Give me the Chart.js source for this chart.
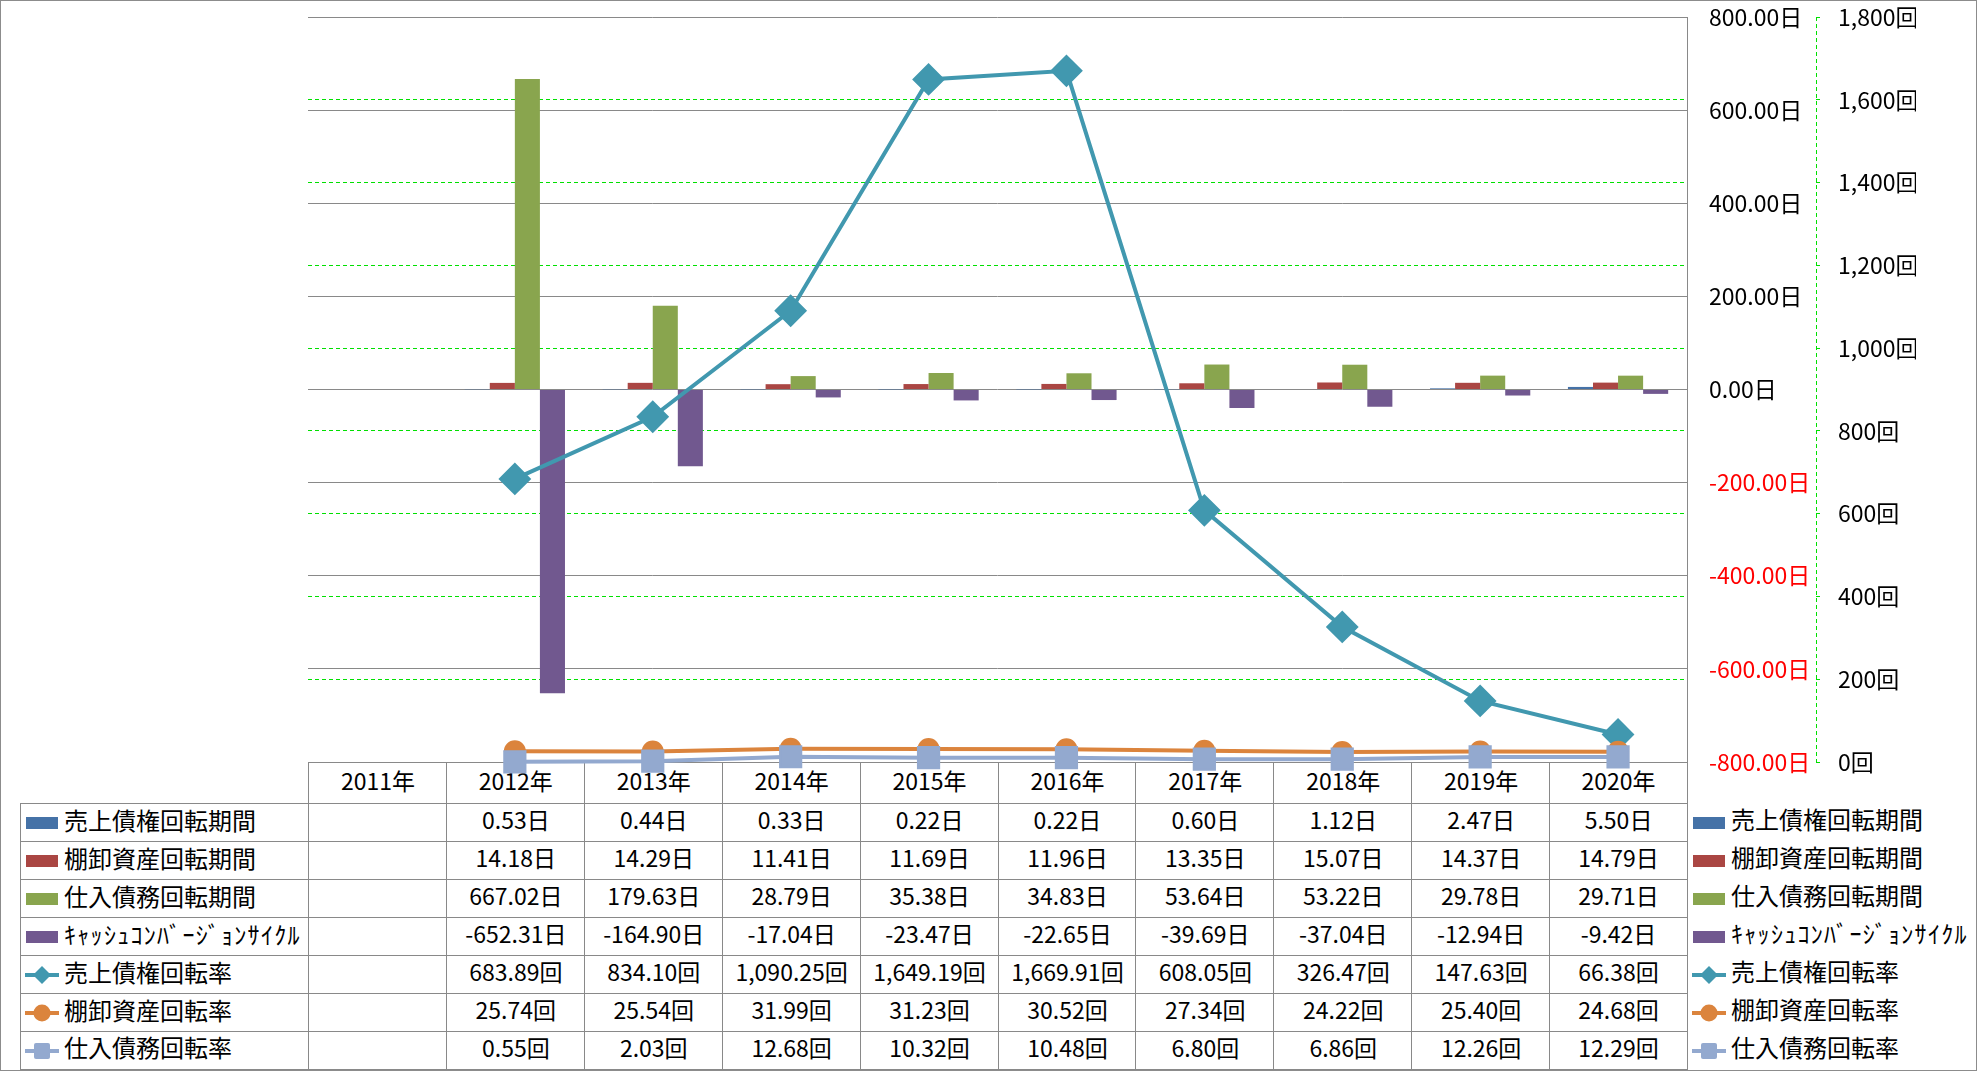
<!DOCTYPE html>
<html lang="ja">
<head>
<meta charset="utf-8">
<title>回転期間・回転率</title>
<script src="https://cdn.jsdelivr.net/npm/chart.js@4.4.1/dist/chart.umd.min.js"></script>
<style>
  html, body { margin: 0; padding: 0; background: #fff; }
  #frame { position: relative; width: 1977px; height: 1071px; overflow: hidden;
           font-family: "Noto Sans CJK JP", "Noto Sans", sans-serif; color: #000; }
  #chart { position: absolute; left: 0; top: 0; z-index: 2; }
  #grid { position: absolute; left: 0; top: 0; z-index: 1; }
  #border { position: absolute; left: 0; top: 0; width: 1977px; height: 1071px;
            box-sizing: border-box; border: 1px solid #8c8c8c; z-index: 3; pointer-events: none; }
  .cell { position: absolute; box-sizing: border-box; display: flex; align-items: center;
          justify-content: center; font-size: 23px; white-space: nowrap; padding-bottom: 8px; }
  .cell.legend { justify-content: flex-start; padding-left: 4px; font-size: 24px; }
  .cell.legend svg, .side svg { flex: none; margin-right: 5px; position: relative; top: 4px; }
  .side { position: absolute; box-sizing: border-box; display: flex; align-items: center;
          font-size: 24px; white-space: nowrap; padding-bottom: 8px; }
  .hw { letter-spacing: 1.3px; }
</style>
</head>
<body>
<div id="frame">
  <div id="grid"></div>
  <canvas id="chart" width="1977" height="1071"></canvas>
  <div id="border"></div>
</div>
<script>
// 年度
const categories = ['2011年', '2012年', '2013年', '2014年', '2015年', '2016年', '2017年', '2018年', '2019年', '2020年'];

// 回転期間（日）
const receivableDays = [null, 0.53, 0.44, 0.33, 0.22, 0.22, 0.60, 1.12, 2.47, 5.50];
const inventoryDays = [null, 14.18, 14.29, 11.41, 11.69, 11.96, 13.35, 15.07, 14.37, 14.79];
const payableDays = [null, 667.02, 179.63, 28.79, 35.38, 34.83, 53.64, 53.22, 29.78, 29.71];
const cccDays = [null, -652.31, -164.90, -17.04, -23.47, -22.65, -39.69, -37.04, -12.94, -9.42];

// 回転率（回）
const receivableTurnover = [null, 683.89, 834.10, 1090.25, 1649.19, 1669.91, 608.05, 326.47, 147.63, 66.38];
const inventoryTurnover = [null, 25.74, 25.54, 31.99, 31.23, 30.52, 27.34, 24.22, 25.40, 24.68];
const payableTurnover = [null, 0.55, 2.03, 12.68, 10.32, 10.48, 6.80, 6.86, 12.26, 12.29];

// 軸目盛
const dayAxis = { min: -800, max: 800, step: 200 };
const countAxis = { min: 0, max: 1800, step: 200 };

const GRAY = '#898989';
const GREEN = '#00e000';

// 表・凡例の行
const rows = [
  { name: '売上債権回転期間', data: receivableDays, unit: '日', key: 'bar', color: '#4572A7' },
  { name: '棚卸資産回転期間', data: inventoryDays, unit: '日', key: 'bar', color: '#AA4643' },
  { name: '仕入債務回転期間', data: payableDays, unit: '日', key: 'bar', color: '#89A54E' },
  { name: 'ｷｬｯｼｭｺﾝﾊﾞｰｼﾞｮﾝｻｲｸﾙ', data: cccDays, unit: '日', key: 'bar', color: '#71588F', cls: 'hw' },
  { name: '売上債権回転率', data: receivableTurnover, unit: '回', key: 'diamond', color: '#4198AF' },
  { name: '棚卸資産回転率', data: inventoryTurnover, unit: '回', key: 'circle', color: '#DB843D' },
  { name: '仕入債務回転率', data: payableTurnover, unit: '回', key: 'square', color: '#93A9CF' }
];

function fmt(v) {
  return v.toLocaleString('en-US', { minimumFractionDigits: 2, maximumFractionDigits: 2 });
}

function keySvg(kind, color) {
  if (kind === 'bar') {
    return `<svg width="34" height="20" viewBox="0 0 34 20"><rect x="1" y="4" width="32" height="12" fill="${color}"/></svg>`;
  }
  let marker = '';
  if (kind === 'diamond') marker = `<polygon points="17,1 26,10 17,19 8,10" fill="${color}"/>`;
  if (kind === 'circle') marker = `<circle cx="17" cy="10" r="8.5" fill="${color}"/>`;
  if (kind === 'square') marker = `<rect x="9" y="2" width="16" height="16" rx="2" fill="${color}"/>`;
  return `<svg width="34" height="20" viewBox="0 0 34 20"><line x1="0" y1="10" x2="34" y2="10" stroke="${color}" stroke-width="4"/>${marker}</svg>`;
}

// 第2軸の点線
const axisLinePlugin = {
  id: 'axisLine',
  afterDraw(chart) {
    const s = chart.scales.y2;
    const ctx = chart.ctx;
    ctx.save();
    ctx.strokeStyle = GREEN;
    ctx.lineWidth = 1;
    ctx.setLineDash([4, 3]);
    ctx.beginPath();
    ctx.moveTo(Math.round(s.left) + 0.5, s.top);
    ctx.lineTo(Math.round(s.left) + 0.5, s.bottom);
    ctx.stroke();
    ctx.restore();
  }
};

function barSet(row, order) {
  return {
    type: 'bar', label: row.name, data: row.data, yAxisID: 'y', order: order,
    backgroundColor: row.color, borderWidth: 0,
    categoryPercentage: 0.727, barPercentage: 1.0
  };
}

function lineSet(row, order, style, radius) {
  return {
    type: 'line', label: row.name, data: row.data, yAxisID: 'y2', order: order,
    borderColor: row.color, borderWidth: 4, tension: 0, clip: false,
    pointStyle: style, pointRadius: radius, pointHoverRadius: radius,
    pointBackgroundColor: row.color, pointBorderColor: row.color, pointBorderWidth: 2
  };
}

// 軸ラベルによる上下の余白を無くす
function fixAxis(width) {
  return scale => {
    scale.width = width;
    scale.paddingTop = 0;
    scale.paddingBottom = 0;
  };
}

Chart.defaults.font.family = '"Noto Sans CJK JP", "Noto Sans", sans-serif';

const chart = new Chart(document.getElementById('chart'), {
  type: 'bar',
  data: {
    labels: categories,
    datasets: [
      lineSet(rows[6], 0, 'rect', 15),
      lineSet(rows[5], 1, 'circle', 10),
      lineSet(rows[4], 2, 'rectRot', 15),
      barSet(rows[0], 3),
      barSet(rows[1], 4),
      barSet(rows[2], 5),
      barSet(rows[3], 6)
    ]
  },
  options: {
    responsive: false,
    animation: false,
    devicePixelRatio: 1,
    layout: { padding: { left: 308, right: 61, top: 16, bottom: 309 } },
    plugins: { legend: { display: false }, tooltip: { enabled: false } },
    scales: {
      x: { display: false },
      y: {
        position: 'right',
        min: dayAxis.min, max: dayAxis.max,
        afterFit: fixAxis(129),
        grid: { color: GRAY, lineWidth: 1, drawTicks: false },
        border: { display: true, color: GRAY, width: 1 },
        ticks: {
          stepSize: dayAxis.step, autoSkip: false, padding: 22,
          font: { size: 23 },
          color: c => (c.tick && c.tick.value < 0 ? '#ff0000' : '#000000'),
          callback: v => v.toFixed(2) + '日'
        }
      },
      y2: {
        position: 'right',
        min: countAxis.min, max: countAxis.max,
        afterFit: fixAxis(100),
        grid: {
          color: c => (c.tick && (c.tick.value === countAxis.min || c.tick.value === countAxis.max) ? 'rgba(0,0,0,0)' : GREEN),
          lineWidth: 1, drawTicks: true, tickLength: 7,
          tickColor: GREEN, tickBorderDash: [4, 3]
        },
        border: { display: false, dash: [4, 3] },
        ticks: {
          stepSize: countAxis.step, autoSkip: false, padding: 15,
          font: { size: 23 }, color: '#000000',
          callback: v => v.toLocaleString('en-US') + '回'
        }
      }
    }
  },
  plugins: [axisLinePlugin]
});

// データテーブル
function buildTable() {
  const area = chart.chartArea;
  const grid = document.getElementById('grid');
  const colW = (area.right - area.left) / categories.length;
  const tableLeft = 20;
  const headerH = 41;
  const rowH = 38;
  const top0 = area.bottom;
  const border = `1px solid ${GRAY}`;

  function cell(x, y, w, h, html, cls, edges) {
    const d = document.createElement('div');
    d.className = 'cell' + (cls ? ' ' + cls : '');
    d.style.left = x + 'px';
    d.style.top = y + 'px';
    d.style.width = w + 'px';
    d.style.height = h + 'px';
    if (edges.t) d.style.borderTop = border;
    if (edges.l) d.style.borderLeft = border;
    if (edges.r) d.style.borderRight = border;
    if (edges.b) d.style.borderBottom = border;
    d.innerHTML = html;
    grid.appendChild(d);
  }

  function label(row) {
    return keySvg(row.key, row.color) + '<span class="' + (row.cls || '') + '">' + row.name + '</span>';
  }

  categories.forEach((c, i) => {
    const x = area.left + i * colW;
    cell(x, top0, colW + 1, headerH + 1, c, '', { t: 1, l: 1, r: i === categories.length - 1 });
  });

  rows.forEach((row, r) => {
    const y = top0 + headerH + r * rowH;
    const last = r === rows.length - 1;
    cell(tableLeft, y, area.left - tableLeft + 1, rowH + 1, label(row), 'legend', { t: 1, l: 1, b: last });
    row.data.forEach((v, i) => {
      const x = area.left + i * colW;
      const txt = v === null ? '' : fmt(v) + row.unit;
      cell(x, y, colW + 1, rowH + 1, txt, '', { t: 1, l: 1, r: i === categories.length - 1, b: last });
    });

    const s = document.createElement('div');
    s.className = 'side';
    s.style.left = (area.right + 5) + 'px';
    s.style.top = y + 'px';
    s.style.height = (rowH + 1) + 'px';
    s.innerHTML = label(row);
    grid.appendChild(s);
  });
}

buildTable();
</script>
</body>
</html>
